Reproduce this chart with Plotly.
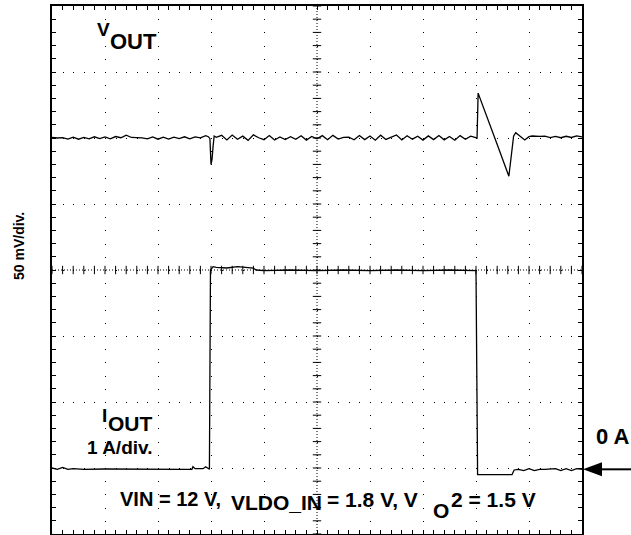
import numpy as np
import plotly.graph_objects as go

# ---- scope geometry: 10 horizontal x 8 vertical divisions ----
X_DIVS = 10
Y_DIVS = 8
VOUT_REF_DIV = 2.0      # V_OUT channel ground marker (div above centre)
VOUT_MV_PER_DIV = 50.0
IOUT_ZERO_DIV = -3.02   # I_OUT channel "0 A" marker
IOUT_A_PER_DIV = 1.0

# ---- V_OUT (AC coupled, mV deviation) ----
vout_t = [0.0, 0.1, 0.2, 0.3, 0.4, 0.5, 0.6, 0.7, 0.8, 0.9,
          1.0, 1.1, 1.2, 1.3, 1.4, 1.5, 1.6, 1.7, 1.8, 1.9,
          2.0, 2.1, 2.2, 2.3, 2.4, 2.5, 2.6, 2.7, 2.8, 2.9,
          2.95, 2.98, 3.0, 3.02, 3.04, 3.06, 3.1,
          3.2, 3.3, 3.4, 3.5, 3.6, 3.7, 3.8, 3.9, 4.0, 4.1,
          4.2, 4.3, 4.4, 4.5, 4.6, 4.7, 4.8, 4.9, 5.0, 5.1,
          5.2, 5.3, 5.4, 5.5, 5.6, 5.7, 5.8, 5.9, 6.0, 6.1,
          6.2, 6.3, 6.4, 6.5, 6.6, 6.7, 6.8, 6.9, 7.0, 7.1,
          7.2, 7.3, 7.4, 7.5, 7.6, 7.7, 7.8, 7.9,
          7.98, 8.02, 8.04, 8.2, 8.4, 8.62, 8.67, 8.71, 8.75, 8.8,
          8.85, 8.92, 9.0, 9.06, 9.2, 9.3, 9.4, 9.5, 9.6, 9.7,
          9.8, 9.9, 10.0]
vout_mv = [0.5, 0.0, 0.3, -0.8, 0.6, -0.9, 0.4, -0.7, 0.9, -0.5,
           0.8, -0.6, 1.1, 0.2, 2.2, 0.4, 0.3, 0.1, -0.7, 0.8,
           -0.9, 0.6, -0.8, 0.7, -0.4, 0.9, -0.6, 0.8, 0.1, 1.8,
           1.0, -0.5, -20.0, -16.0, -6.0, 1.5, 0.5,
           2.0, -1.5, 2.2, -1.0, 1.4, -1.8, 2.4, 0.2, -1.3, 1.9,
           -1.5, 0.8, -1.2, 1.0, -1.0, 1.7, -1.6, 1.2, -0.6, 1.8,
           -1.3, 2.0, -0.8, 0.5, 0.6, -1.4, 1.9, -1.2, 1.5, -1.7,
           2.1, -1.1, 0.9, 2.3, -1.5, 1.7, -0.9, 1.3, -1.6, 1.6,
           -1.2, 1.9, -1.4, 1.2, -1.7, 1.8, -1.0, 1.4,
           0.5, 0.0, 34.0, 16.0, -5.0, -29.0, -10.0, 1.5, 4.0, 2.5,
           0.5, -1.5, 1.0, 1.5, 1.2, 1.4, 0.3, 1.2, 0.2, 1.3,
           0.4, 1.6, 0.8]

# ---- I_OUT (load step, amps) ----
iout_t = [0.0, 0.1, 0.2, 0.3, 0.4, 0.6, 1.0, 1.5, 2.0, 2.5,
          2.64, 2.66, 2.7, 2.85, 2.9, 2.95, 2.97, 2.99,
          3.04, 3.1, 3.3, 3.5, 3.8, 3.85, 4.0, 4.5, 5.0, 5.5,
          6.0, 6.5, 7.0, 7.5, 8.0,
          8.03, 8.1, 8.68, 8.72, 8.8, 8.9, 9.0, 9.1, 9.2, 9.3,
          9.5, 9.6, 9.7, 9.8, 9.9, 10.0]
iout_a = [0.02, 0.0, 0.03, 0.0, 0.01, 0.0, 0.005, 0.0, 0.005, 0.0,
          0.0, 0.04, 0.01, 0.01, 0.04, 0.0, 0.0, 3.02,
          3.07, 3.06, 3.05, 3.07, 3.05, 3.02, 3.01, 3.02, 3.01, 3.02,
          3.01, 3.02, 3.01, 3.02, 3.01,
          -0.08, -0.08, -0.08, -0.01, 0.0, -0.02, 0.01, -0.02, 0.0, 0.0,
          0.01, -0.02, 0.01, -0.02, 0.01, 0.0]

vout_div = [VOUT_REF_DIV + v / VOUT_MV_PER_DIV for v in vout_mv]
iout_div = [IOUT_ZERO_DIV + a / IOUT_A_PER_DIV for a in iout_a]

# pixel frame of the graticule
W, H = 631, 535
L, R, T, B = 52, 49, 6, 1
PW, PH = W - L - R, H - T - B
FONT = "Liberation Sans, Arial, sans-serif"


def px(x):
    return (x - L) / PW


def py(y):
    return (H - B - y) / PH


fig = go.Figure()

# traces
fig.add_trace(go.Scatter(x=vout_t, y=vout_div, mode="lines",
                         line=dict(color="black", width=1.3),
                         hoverinfo="skip", showlegend=False))
fig.add_trace(go.Scatter(x=iout_t, y=iout_div, mode="lines",
                         line=dict(color="black", width=1.3),
                         hoverinfo="skip", showlegend=False))

# centre cross tick marks (every 1/5 division)
minor_x = np.arange(0, X_DIVS + 0.001, 0.2)
minor_y = np.arange(-Y_DIVS / 2, Y_DIVS / 2 + 0.001, 0.2)
fig.add_trace(go.Scatter(x=minor_x, y=np.zeros_like(minor_x), mode="markers",
                         marker=dict(symbol="line-ns", size=6,
                                     line=dict(color="black", width=1)),
                         hoverinfo="skip", showlegend=False))
fig.add_trace(go.Scatter(x=np.full_like(minor_y, X_DIVS / 2), y=minor_y, mode="markers",
                         marker=dict(symbol="line-ew", size=6,
                                     line=dict(color="black", width=1)),
                         hoverinfo="skip", showlegend=False))

shapes = [
    dict(type="line", xref="x", yref="y", x0=X_DIVS / 2, x1=X_DIVS / 2,
         y0=-Y_DIVS / 2, y1=Y_DIVS / 2, line=dict(color="black", width=1, dash="1px,2px"),
         layer="below"),
    dict(type="line", xref="x", yref="y", x0=0, x1=X_DIVS, y0=0, y1=0,
         line=dict(color="black", width=1, dash="1px,2px"), layer="below"),
]

# "0 A" marker arrow on the I_OUT zero level
half = 7 / PH * Y_DIVS
tip, base, tail = px(583), px(602), px(631)
shapes.append(dict(type="path", xref="paper", yref="y",
                   path=f"M {tip} {IOUT_ZERO_DIV} L {base} {IOUT_ZERO_DIV + half} "
                        f"L {base} {IOUT_ZERO_DIV - half} Z",
                   fillcolor="black", line=dict(color="black", width=0)))
shapes.append(dict(type="line", xref="paper", yref="y", x0=base - 0.002, x1=tail,
                   y0=IOUT_ZERO_DIV, y1=IOUT_ZERO_DIV,
                   line=dict(color="black", width=2)))


def label(text, xl, yc, size, anchor="left"):
    return dict(text=f"<b>{text}</b>", xref="paper", yref="paper",
                x=px(xl), y=py(yc), xanchor=anchor, yanchor="middle",
                borderpad=0, showarrow=False,
                font=dict(family=FONT, size=size, color="black"))


annotations = [
    label("V", 96, 30, 19),
    label("OUT", 109, 41, 22),
    label("I", 101, 415, 19),
    label("OUT", 107, 423, 21),
    label("1 A/div.", 86, 447, 19),
    label("VIN = 12 V,", 119, 499, 20),
    label("VLDO_IN", 230, 502, 21),
    label("= 1.8 V, V", 326, 499, 21),
    label("O", 432, 510, 21),
    label("2 = 1.5 V", 450, 499, 21),
    label("0 A", 631, 436, 22, anchor="right"),
    dict(text="<b>50 mV/div.</b>", xref="paper", yref="paper",
         x=px(19), y=py(246), xanchor="center", yanchor="middle",
         textangle=-90, showarrow=False, borderpad=0,
         font=dict(family=FONT, size=14, color="black")),
]

axis_common = dict(
    showline=True, linecolor="black", linewidth=1.5, mirror="allticks",
    ticks="inside", ticklen=4, tickcolor="black", tickwidth=1,
    showticklabels=False, zeroline=False, showgrid=True,
    gridcolor="black", gridwidth=1, dtick=1,
    minor=dict(ticks="inside", ticklen=4, tickcolor="black", tickwidth=1,
               dtick=0.2, showgrid=False),
    fixedrange=True,
)

fig.update_layout(
    width=W, height=H,
    margin=dict(l=L, r=R, t=T, b=B),
    paper_bgcolor="white", plot_bgcolor="white",
    xaxis=dict(range=[0, X_DIVS], tick0=0, griddash="1px,12.2px", **axis_common),
    yaxis=dict(range=[-Y_DIVS / 2, Y_DIVS / 2], tick0=0, griddash="1px,9.6px", **axis_common),
    shapes=shapes,
    annotations=annotations,
)

fig.write_html("out.html")
